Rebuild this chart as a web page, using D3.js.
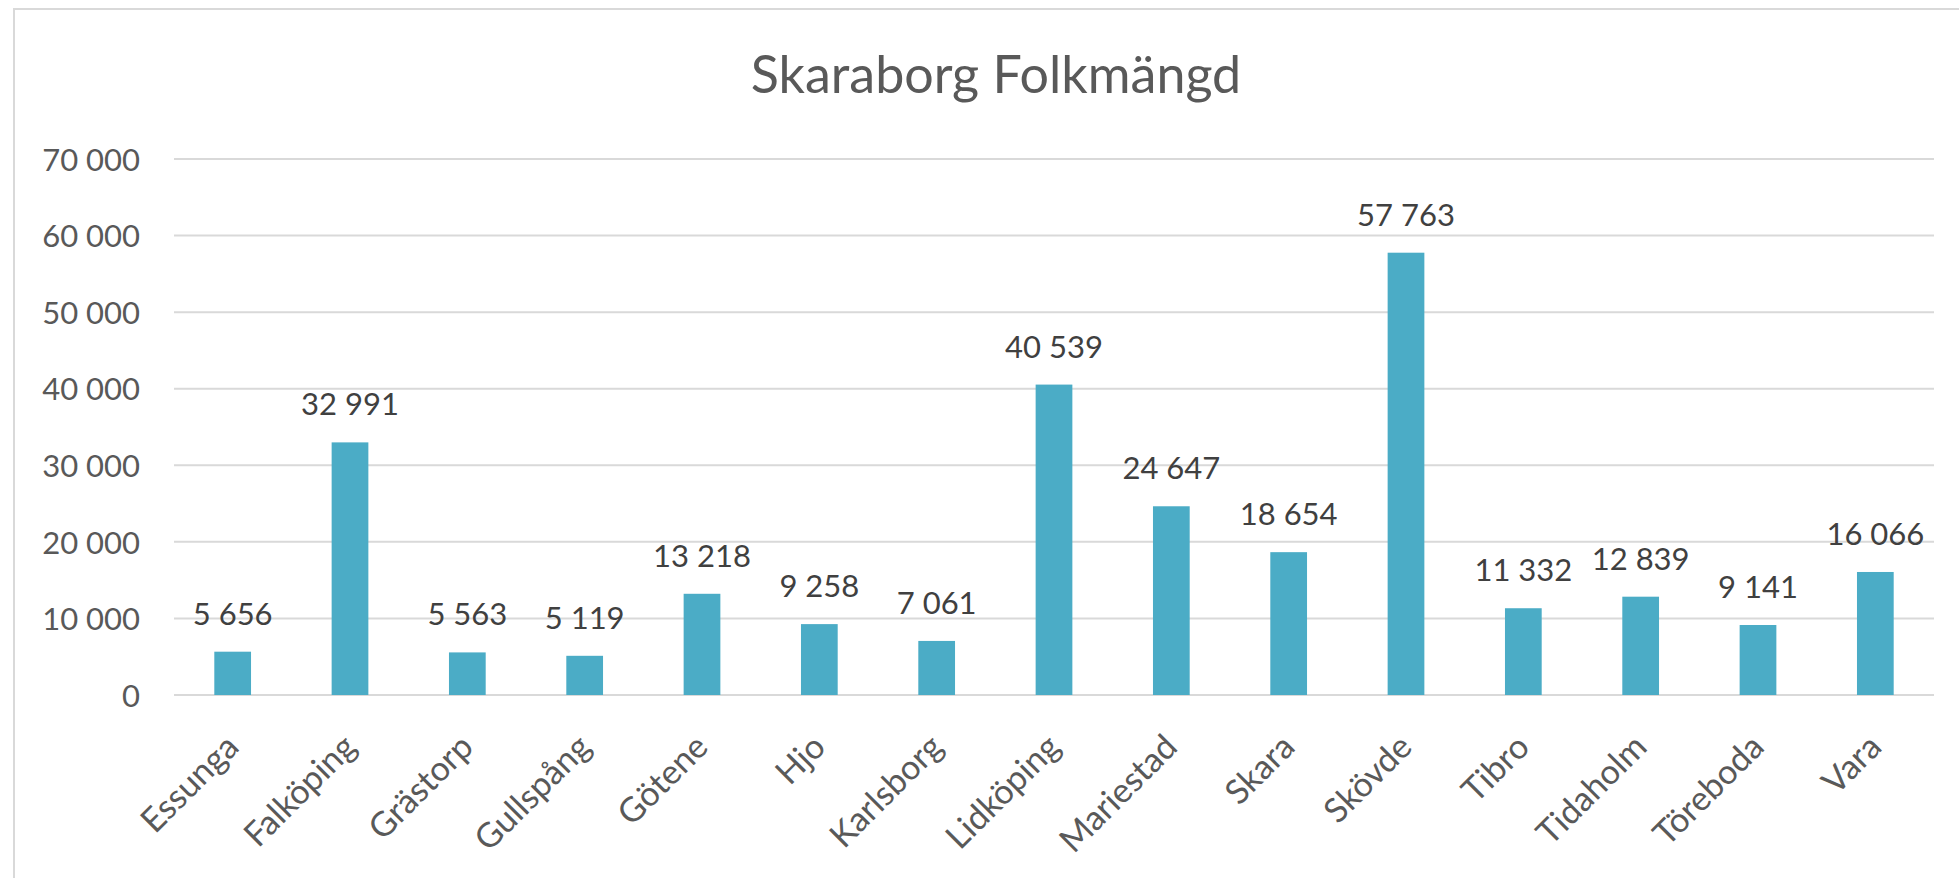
<!DOCTYPE html>
<html><head><meta charset="utf-8">
<script src="https://cdn.jsdelivr.net/npm/d3@7"></script>
<style>html,body{margin:0;padding:0;background:#fff;overflow:hidden}text{font-family:Lato,"Open Sans",sans-serif}</style>
</head><body><svg id="c" width="1959" height="878"></svg>
<script>
const categories = ["Essunga","Falköping","Grästorp","Gullspång","Götene","Hjo","Karlsborg","Lidköping","Mariestad","Skara","Skövde","Tibro","Tidaholm","Töreboda","Vara"];
const values = [5656,32991,5563,5119,13218,9258,7061,40539,24647,18654,57763,11332,12839,9141,16066];
const yTicks = [0,10000,20000,30000,40000,50000,60000,70000];
const title = "Skaraborg Folkmängd";

const svg = d3.select("#c");
const loc = d3.formatLocale({decimal:",", thousands:"\u00a0", grouping:[3], currency:["",""]});
const fmt = loc.format(",d");

svg.append("rect").attr("x",14).attr("y",9).attr("width",2100).attr("height",1000)
  .attr("fill","#fff").attr("stroke","#d9d9d9").attr("stroke-width",2);

const x = d3.scaleBand().domain(categories).range([174,1934]).paddingInner(0.687).paddingOuter(0.3435);
const y = d3.scaleLinear().domain([0,70000]).range([695,159]);

svg.append("text").attr("x",996).attr("y",93).attr("text-anchor","middle")
  .attr("font-size",52).attr("fill","#595959").text(title);

const g = svg.append("g");
g.selectAll("line.grid").data(yTicks).join("line").attr("class","grid")
  .attr("x1",174).attr("x2",1934).attr("y1",d=>y(d)).attr("y2",d=>y(d))
  .attr("stroke","#d9d9d9").attr("stroke-width",2);

const yAxis = d3.axisLeft(y).tickValues(yTicks).tickFormat(fmt).tickSize(0).tickPadding(0);
const ya = svg.append("g").attr("transform","translate(140,0)").call(yAxis);
ya.select(".domain").remove();
ya.selectAll("text").attr("font-size",31).attr("fill","#595959").attr("dy","0.36em")
  .style("font-family","Lato");

g.selectAll("rect.bar").data(values).join("rect").attr("class","bar")
  .attr("x",(d,i)=>x(categories[i])).attr("width",x.bandwidth())
  .attr("y",d=>y(d)).attr("height",d=>y(0)-y(d)).attr("fill","#4bacc6");

g.selectAll("text.lbl").data(values).join("text").attr("class","lbl")
  .attr("x",(d,i)=>x(categories[i])+x.bandwidth()/2).attr("y",d=>y(d)-27)
  .attr("text-anchor","middle").attr("font-size",31).attr("fill","#404040").text(d=>fmt(d));

const xAxis = d3.axisBottom(x).tickSize(0).tickPadding(0);
const xa = svg.append("g").attr("transform","translate(0,695)").call(xAxis);
xa.select(".domain").remove();
xa.selectAll(".tick text").attr("text-anchor","end").attr("font-size",34).attr("fill","#595959")
  .attr("y",0).attr("dy",0).style("font-family","Lato")
  .attr("transform","translate(8,54) rotate(-45)");
</script></body></html>
